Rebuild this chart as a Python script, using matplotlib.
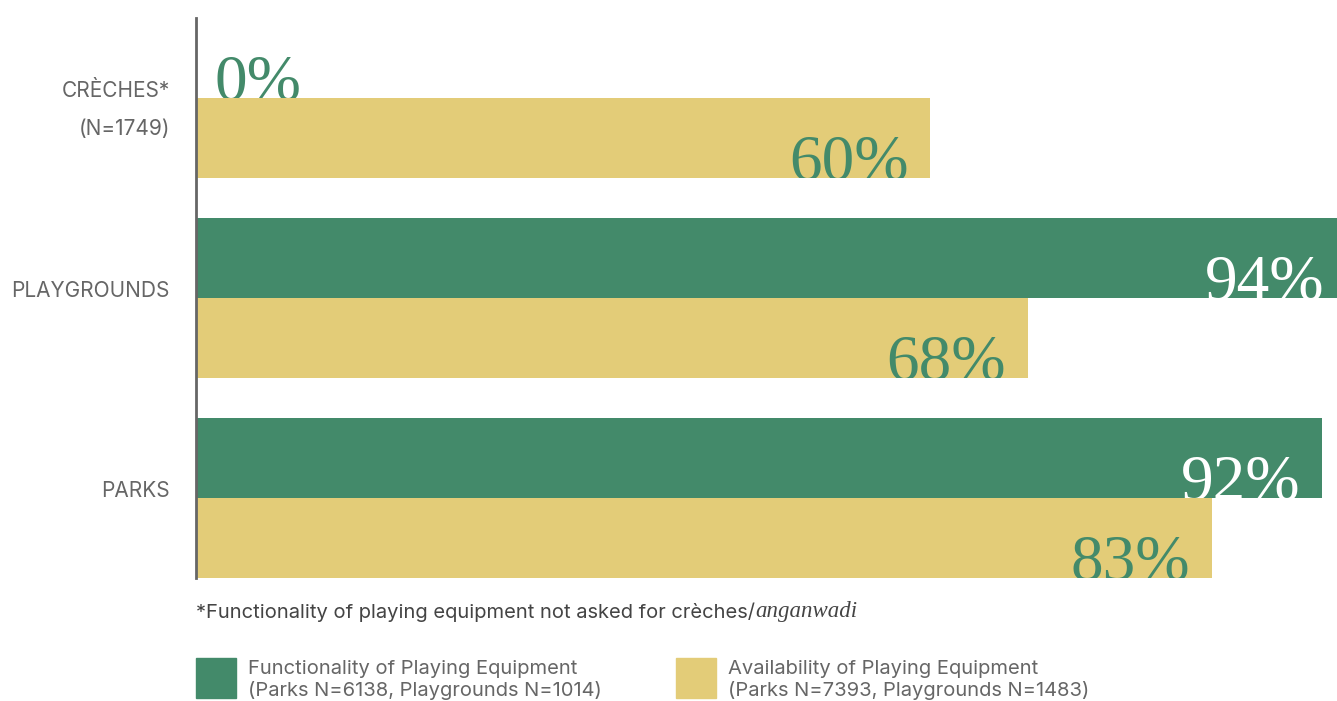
import matplotlib.pyplot as plt
from matplotlib.patches import Rectangle

# ------ data ------------------ #
categories = ["CRÈCHES*", "PLAYGROUNDS", "PARKS"]
subtitles = ["(N=1749)", "", ""]
functionality = [0, 94, 92]
availability = [60, 68, 83]
legend_labels = ["Functionality of Playing Equipment\n(Parks N=6138, Playgrounds N=1014)",
                 "Availability of Playing Equipment\n(Parks N=7393, Playgrounds N=1483)"]
footnote = "*Functionality of playing equipment not asked for crèches/"
footnote_it = "anganwadi"
# ------------------------------ #

GREEN = "#438A6A"
YELLOW = "#E3CC78"
GREY = "#666666"
SANS = ["Inter", "DejaVu Sans"]
SERIF = ["Liberation Serif", "DejaVu Serif"]
W, H = 1337, 701

fig = plt.figure(figsize=(W / 100, H / 100), dpi=100)
# axes spans x 196..1337, y 18..578 in pixels
ax = fig.add_axes([196 / W, 1 - 578 / H, (W - 196) / W, 560 / H])
xmax = (W - 196) / 12.24
ax.set_xlim(0, xmax)
ax.set_ylim(7, 0)

step = 2.5
for i, cat in enumerate(categories):
    yg = i * step
    yy = yg + 1
    ax.barh(yg + 0.5, functionality[i], height=1, color=GREEN, zorder=2)
    ax.barh(yy + 0.5, availability[i], height=1, color=YELLOW, zorder=2)

    # value labels, clipped to their own bar row
    for val, y0, col in [(functionality[i], yg, "white" if functionality[i] > 0 else GREEN),
                         (availability[i], yy, GREEN)]:
        if val > 0:
            t = ax.annotate(f"{val}%", xy=(val, y0 + 1), xytext=(-22, -2),
                            textcoords="offset pixels", ha="right", va="baseline",
                            fontsize=47, family=SERIF, color=col, zorder=3,
                            annotation_clip=False)
        else:
            t = ax.annotate(f"{val}%", xy=(0, y0 + 1), xytext=(19, -2),
                            textcoords="offset pixels", ha="left", va="baseline",
                            fontsize=47, family=SERIF, color=col, zorder=1,
                            annotation_clip=False)
        clip = Rectangle((0, y0), xmax, 1, transform=ax.transData)
        t.set_clip_path(clip)

    # category labels
    if subtitles[i]:
        ax.annotate(cat, xy=(0, yy), xytext=(-26, 7), textcoords="offset pixels",
                    ha="right", va="center", fontsize=15, family=SANS, color=GREY)
        ax.annotate(subtitles[i], xy=(0, yy), xytext=(-26, -31), textcoords="offset pixels",
                    ha="right", va="center", fontsize=15, family=SANS, color=GREY)
    else:
        ax.annotate(cat, xy=(0, yy), xytext=(-26, 7), textcoords="offset pixels",
                    ha="right", va="center", fontsize=15, family=SANS, color=GREY)

for s in ["top", "right", "bottom"]:
    ax.spines[s].set_visible(False)
ax.spines["left"].set_color(GREY)
ax.spines["left"].set_linewidth(2)
ax.spines["left"].set_zorder(4)
ax.set_xticks([])
ax.set_yticks([])
ax.patch.set_visible(False)

# footnote
ft = fig.text(196 / W, 1 - 612 / H, footnote, ha="left", va="center",
              fontsize=14.5, family=SANS, color="#444444")
fig.canvas.draw()
bb = ft.get_window_extent()
fig.text(bb.x1 / W, 1 - 612 / H, footnote_it, ha="left", va="center",
         fontsize=16.5, family=SERIF, style="italic", color="#444444")

# legend swatches
for (x0, col, lab) in [(196, GREEN, legend_labels[0]), (676, YELLOW, legend_labels[1])]:
    fig.patches.append(Rectangle((x0 / W, 1 - 698 / H), 40 / W, 40 / H,
                                 transform=fig.transFigure, color=col))
    fig.text((x0 + 52) / W, 1 - 680 / H, lab, ha="left", va="center",
             fontsize=14.5, family=SANS, color=GREY, linespacing=1.15)

fig.savefig("out.png", dpi=100)
